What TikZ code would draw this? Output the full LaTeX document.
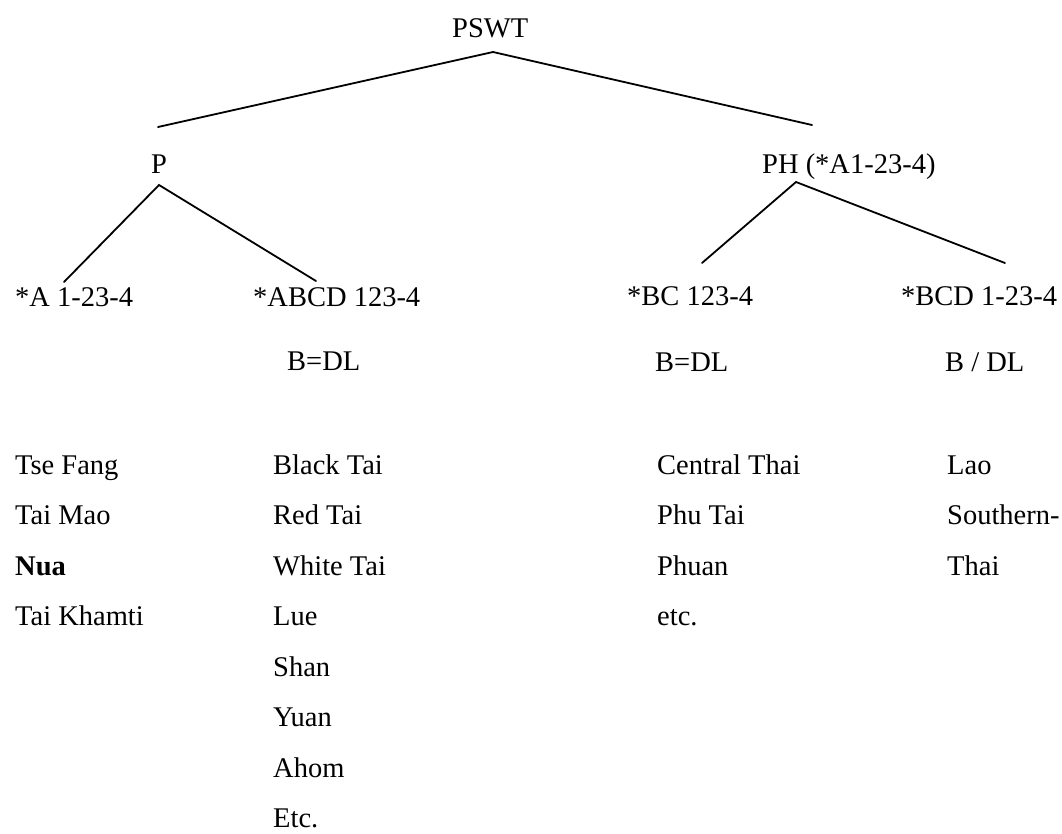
\documentclass[tikz,border=0pt]{standalone}
\usepackage{fontspec}
\setmainfont{Liberation Serif}
\begin{document}
\begin{tikzpicture}[x=1pt,y=-1pt,
  lbl/.style={anchor=base west,inner sep=0pt,font=\fontsize{28.5}{34}\selectfont},
  branch/.style={line width=1.8pt,line cap=round}
]
\useasboundingbox (0,0) rectangle (1062,833);
% Root and the two main groups
\node[lbl] (pswt) at (452,37)  {PSWT};
\node[lbl] (p)    at (151,173) {P};
\node[lbl] (ph)   at (762,173) {PH (*A1-23-4)};
% Line ends of the branches
\coordinate (top)   at (493,52);
\coordinate (topL)  at (158,127);
\coordinate (topR)  at (812,125);
\coordinate (pTop)  at (159,185);
\coordinate (pL)    at (64,282);
\coordinate (pR)    at (316,281);
\coordinate (phTop) at (796,182);
\coordinate (phL)   at (702,263);
\coordinate (phR)   at (1005,263);
\draw[branch] (topL) -- (top) -- (topR);
\draw[branch] (pL) -- (pTop) -- (pR);
\draw[branch] (phL) -- (phTop) -- (phR);
% Row 2: tone patterns
\node[lbl] (a)    at (15,306)  {*A 1-23-4};
\node[lbl] (abcd) at (253,306) {*ABCD 123-4};
\node[lbl] (bc)   at (627,305) {*BC 123-4};
\node[lbl] (bcd)  at (901,305) {*BCD 1-23-4};
% Row 3: B and DL
\node[lbl] (eqA)  at (287,370) {B=DL};
\node[lbl] (eqB)  at (655,371) {B=DL};
\node[lbl] (sep)  at (945,371) {B / DL};
% Row 4: languages
\foreach \lang [count=\i from 0] in {Tse Fang,Tai Mao,\textbf{Nua},Tai Khamti}
  \node[lbl] (la\i) at (15,{474+50.5*\i}) {\lang};
\foreach \lang [count=\i from 0] in {Black Tai,Red Tai,White Tai,Lue,Shan,Yuan,Ahom,Etc.}
  \node[lbl] (lb\i) at (273,{474+50.5*\i}) {\lang};
\foreach \lang [count=\i from 0] in {Central Thai,Phu Tai,Phuan,etc.}
  \node[lbl] (lc\i) at (657,{474+50.5*\i}) {\lang};
\foreach \lang [count=\i from 0] in {Lao,Southern-,Thai}
  \node[lbl] (ld\i) at (947,{474+50.5*\i}) {\lang};
\end{tikzpicture}
\end{document}
